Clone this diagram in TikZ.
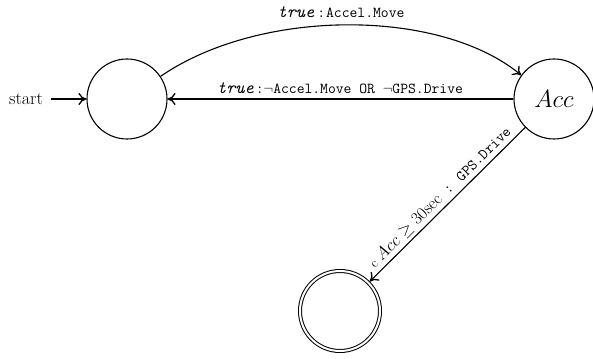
\documentclass[tikz,border=0pt]{standalone}
\usepackage{fontspec}
\usetikzlibrary{arrows.meta}
\newcommand{\mytru}{{\fontsize{17.5}{20}\selectfont\ttfamily\itshape true}}
\newcommand{\myneg}{{\fontsize{14.4}{16}\selectfont$\neg$}}
\begin{document}
\begin{tikzpicture}[x=1pt,y=1pt,
  state/.style={circle,draw,line width=1.1pt,minimum size=80pt,inner sep=0pt},
  accept/.style={circle,draw,double,double distance=2pt,line width=1pt,minimum size=80pt,inner sep=0pt,outer sep=2pt},
  edge/.style={line width=1.1pt,-{Computer Modern Rightarrow[length=8pt,width=12pt,line width=1.3pt]}},
  lbl/.style={font=\fontsize{15.2}{18}\selectfont\ttfamily,inner sep=1pt}]
\useasboundingbox (0,0) rectangle (593,358);
\node[state] (q0) at (127,259) {};
\node[state,font=\fontsize{24.88}{28}\selectfont] (acc) at (554,259) {$Acc$};
\node[accept] (qf) at (340,47) {};
\node[font=\fontsize{18}{20}\selectfont,inner sep=0pt] (st) at (26,259) {start};
\draw[edge,shorten <=8pt] (st) -- (q0);
\draw[edge] (q0.34) .. controls (260,350) and (440,350) .. (acc.144);
\node[lbl] (l1) at (341,346) {\mytru\hspace{3pt}:\hspace{1pt}Accel.Move};
\draw[edge] (acc) -- (q0);
\node[lbl] (l2) at (340,270) {\mytru\hspace{2pt}:\myneg Accel.Move OR \myneg GPS.Drive};
\draw[edge] (acc) -- (qf) node[midway,above,sloped,lbl,inner sep=3pt] (l3)
  {{\fontsize{13}{14}\selectfont\rmfamily c}\hspace{4pt}{\fontsize{17.28}{20}\selectfont$Acc \geq 30$\rmfamily sec} : GPS.Drive};
\end{tikzpicture}
\end{document}
